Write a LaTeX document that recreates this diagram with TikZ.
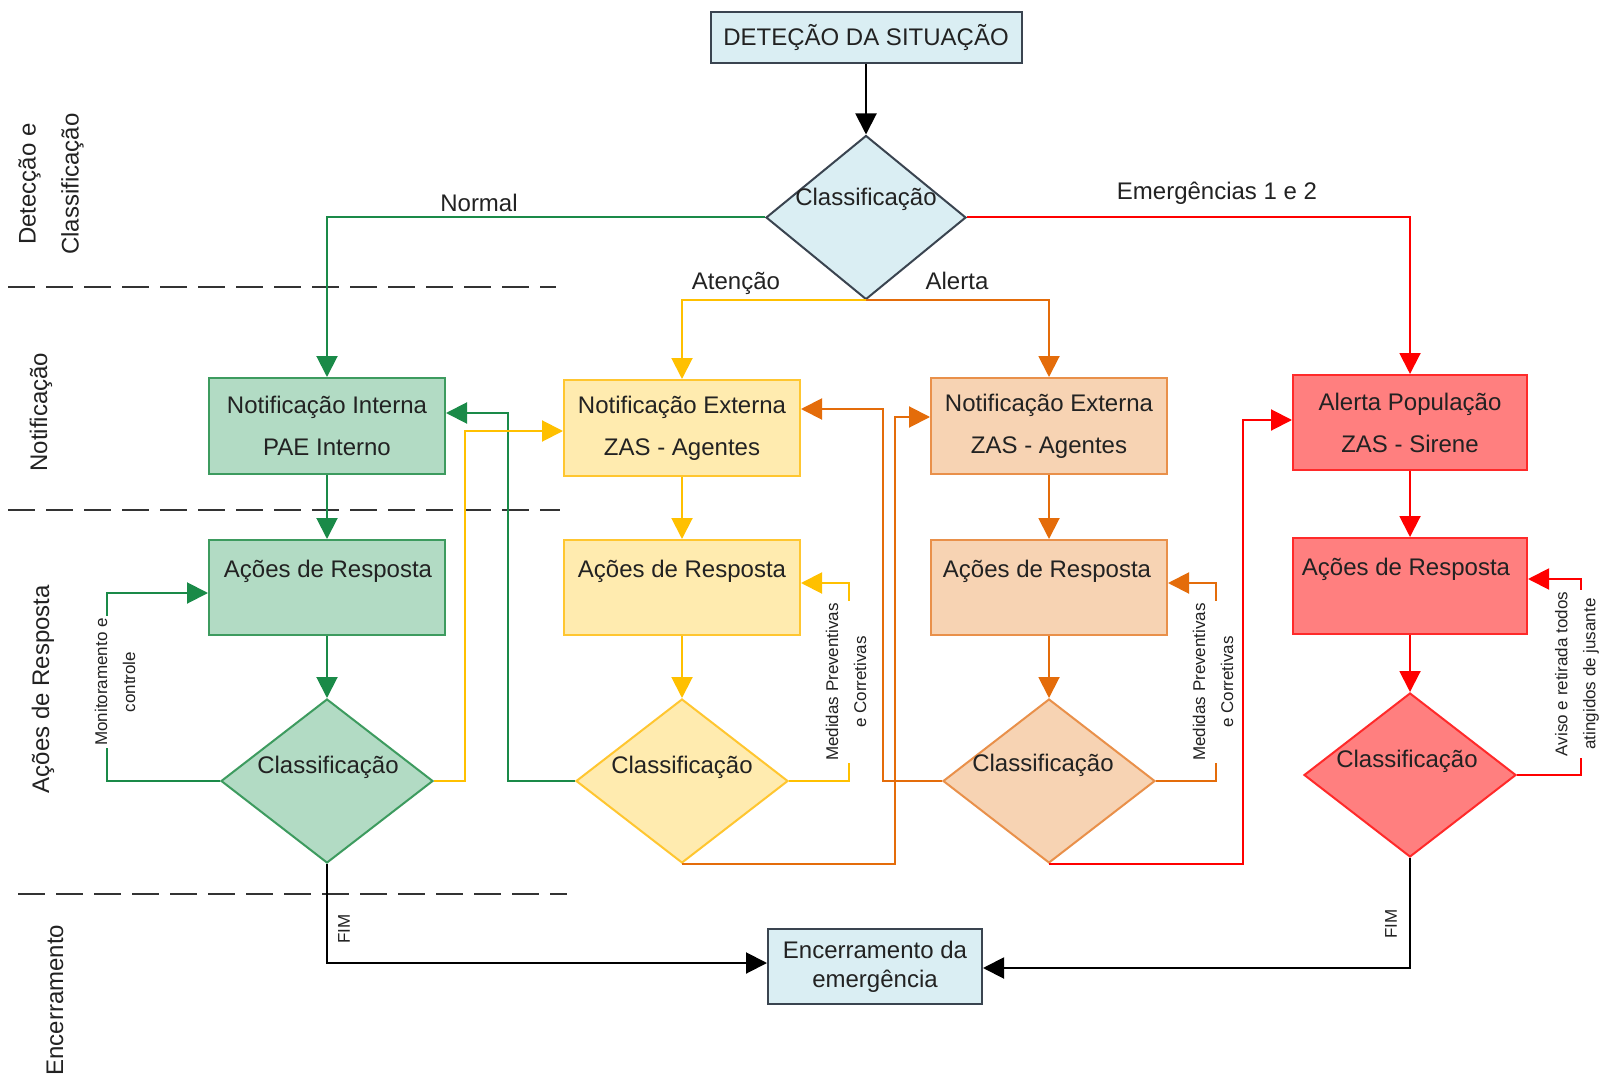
\documentclass[tikz,border=0pt]{standalone}
\usepackage{fontspec}
\setmainfont{Liberation Sans}
\usetikzlibrary{arrows.meta,shapes.geometric,calc}
\definecolor{txt}{HTML}{222222}
\definecolor{blfill}{HTML}{DAEEF3}
\definecolor{bldraw}{HTML}{3A4450}
\definecolor{gline}{HTML}{1A8A48}
\definecolor{gfill}{HTML}{B2DBC4}
\definecolor{gdraw}{HTML}{3D9B5F}
\definecolor{yline}{HTML}{FFC000}
\definecolor{yfill}{HTML}{FFEBAF}
\definecolor{ydraw}{HTML}{FFC630}
\definecolor{oline}{HTML}{E46C0A}
\definecolor{ofill}{HTML}{F7D3B3}
\definecolor{odraw}{HTML}{E9904A}
\definecolor{rline}{HTML}{FF0000}
\definecolor{rfill}{HTML}{FF7F7F}
\definecolor{rdraw}{HTML}{FF2A2A}
\tikzset{
  base/.style={font=\fontsize{24}{42}\selectfont, text=txt},
  boxn/.style={base, draw, line width=2pt, minimum width=236pt, minimum height=96pt, align=center, inner sep=0pt},
  dia/.style={diamond, draw, line width=2pt, minimum width=212pt, minimum height=164pt, inner sep=0pt},
  lbl/.style={font=\fontsize{24}{29}\selectfont, text=txt, align=center, inner sep=1pt},
  sec/.style={font=\fontsize{24}{43}\selectfont, text=txt, align=center, rotate=90},
  sm/.style={font=\fontsize{17}{28}\selectfont, text=txt, align=center, rotate=90, fill=white, inner sep=2pt},
  conn/.style={line width=2pt, -{Triangle[length=21pt,width=21pt]}},
  sepline/.style={line width=2.5pt, dash pattern=on 27pt off 11pt, black!80}
}
\begin{document}
\begin{tikzpicture}[x=1pt,y=-1pt]
\useasboundingbox[fill=white] (0,0) rectangle (1601,1075);

% separators
\draw[sepline] (8,287) -- (556,287);
\draw[sepline] (8,510) -- (560,510);
\draw[sepline] (18,894) -- (567,894);

% section labels
\node[sec] (s1) at (51,184) {Detecção e\\Classificação};
\node[sec] (s2) at (41,412) {Notificação};
\node[sec] (s3) at (43,689) {Ações de Resposta};
\node[sec] (s4) at (55,1000) {Encerramento};

% top
\node[boxn, fill=blfill, draw=bldraw, minimum width=311pt, minimum height=51pt] (top) at (866,37.5) {DETEÇÃO DA SITUAÇÃO};
\node[dia, fill=blfill, draw=bldraw, minimum width=200pt] (td) at (866,217.5) {};
\node[base] (tdt) at (866,199) {Classificação};

% notification row
\node[boxn, fill=gfill, draw=gdraw] (g1) at (327,426) {Notificação Interna\\PAE Interno};
\node[boxn, fill=yfill, draw=ydraw] (y1) at (682,428) {Notificação Externa\\ZAS - Agentes};
\node[boxn, fill=ofill, draw=odraw] (o1) at (1049,426) {Notificação Externa\\ZAS - Agentes};
\node[boxn, fill=rfill, draw=rdraw, minimum width=234pt, minimum height=95pt] (r1) at (1410,422.5) {Alerta População\\ZAS - Sirene};

% response row
\node[boxn, fill=gfill, draw=gdraw, minimum height=95pt] (g2) at (327,587.5) {};
\node[boxn, fill=yfill, draw=ydraw, minimum height=95pt] (y2) at (682,587.5) {};
\node[boxn, fill=ofill, draw=odraw, minimum height=95pt] (o2) at (1049,587.5) {};
\node[boxn, fill=rfill, draw=rdraw, minimum width=234pt] (r2) at (1410,586) {};
\node[base] (g2t) at (328,571) {Ações de Resposta};
\node[base] (y2t) at (682,571) {Ações de Resposta};
\node[base] (o2t) at (1047,571) {Ações de Resposta};
\node[base] (r2t) at (1406,569) {Ações de Resposta};

% diamonds
\node[dia, fill=gfill, draw=gdraw] (gd) at (327,781) {};
\node[dia, fill=yfill, draw=ydraw] (yd) at (682,781) {};
\node[dia, fill=ofill, draw=odraw] (od) at (1049,781) {};
\node[dia, fill=rfill, draw=rdraw] (rd) at (1410,775) {};
\node[base] (gdt) at (328,767) {Classificação};
\node[base] (ydt) at (682,767) {Classificação};
\node[base] (odt) at (1043,765) {Classificação};
\node[base] (rdt) at (1407,761) {Classificação};

% end box
\node[lbl, draw=bldraw, fill=blfill, line width=2pt, minimum width=214pt, minimum height=75pt] (enc) at (875,966.5) {Encerramento da\\emergência};

% top connectors
\draw[conn, black] (top.south) -- (td.north);
\draw[conn, gline] (td.west) -| (g1.north);
\draw[conn, rline] (td.east) -| (r1.north);
\draw[conn, yline] (td.south) -| (y1.north);
\draw[conn, oline] (td.south) -| (o1.north);
\node[lbl] (lnormal) at (479,203) {Normal};
\node[lbl] (latencao) at (736,283) {Atenção};
\node[lbl] (lalerta) at (957,281) {Alerta};
\node[lbl] (lemerg) at (1217,193) {Emergências 1 e 2};

% column connectors
\draw[conn, gline] (g1.south) -- (g2.north);
\draw[conn, gline] (g2.south) -- (gd.north);
\draw[conn, yline] (y1.south) -- (y2.north);
\draw[conn, yline] (y2.south) -- (yd.north);
\draw[conn, oline] (o1.south) -- (o2.north);
\draw[conn, oline] (o2.south) -- (od.north);
\draw[conn, rline] (r1.south) -- (r2.north);
\draw[conn, rline] (r2.south) -- (rd.north);

% loops and cross connectors
\draw[conn, gline] (gd.west) -- ++(-113,0) |- ($(g2.west)+(0,5.5)$);
\draw[conn, gline] (yd.west) -- ++(-67,0) |- ($(g1.east)+(0,-13)$);
\draw[conn, yline] (gd.east) -- ++(31,0) |- ($(y1.west)+(0,3)$);
\draw[conn, yline] (yd.east) -- ++(60,0) |- ($(y2.east)+(0,-4.5)$);
\draw[conn, oline] (od.west) -- ++(-59,0) |- ($(y1.east)+(0,-19)$);
\draw[conn, oline] (yd.south) -- ++(213,0) |- ($(o1.west)+(0,-9)$);
\draw[conn, oline] (od.east) -- ++(60,0) |- ($(o2.east)+(0,-4.5)$);
\draw[conn, rline] (od.south) -- ++(194,0) |- ($(r1.west)+(0,-2.5)$);
\draw[conn, rline] (rd.east) -- ++(64,0) |- ($(r2.east)+(0,-7)$);

% end connectors
\draw[conn, black] (gd.south) |- ($(enc.west)+(0,-3.5)$);
\draw[conn, black] (rd.south) |- ($(enc.east)+(0,1.5)$);

% small labels
\node[sm] (mon) at (115,682) {Monitoramento e\\controle};
\node[sm] (med1) at (846,682) {Medidas Preventivas\\e Corretivas};
\node[sm] (med2) at (1213,682) {Medidas Preventivas\\e Corretivas};
\node[sm] (aviso) at (1577,674) {Aviso e retirada todos\\atingidos de jusante};
\node[sm, fill=none] (fim1) at (344,929) {FIM};
\node[sm, fill=none] (fim2) at (1391,924) {FIM};
\end{tikzpicture}
\end{document}
